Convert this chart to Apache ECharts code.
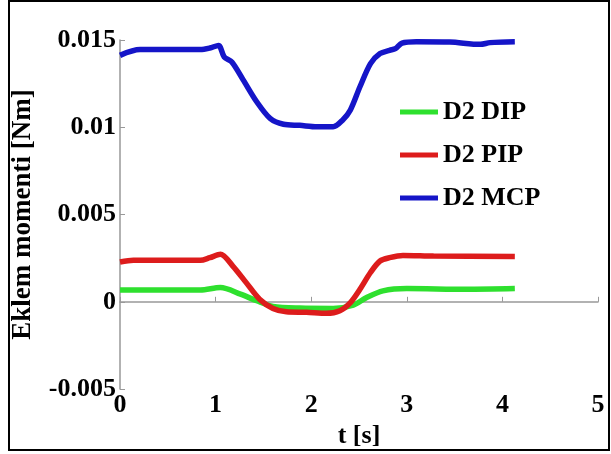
<!DOCTYPE html>
<html>
<head>
<meta charset="utf-8">
<script src="https://cdn.jsdelivr.net/npm/echarts@6/dist/echarts.min.js"></script>
<style>
  html, body { margin: 0; padding: 0; background: #fff; }
  #wrap { position: relative; width: 611px; height: 454px; }
  #chart { width: 611px; height: 454px; }
  #frame {
    position: absolute; left: 8px; top: 0; width: 602px; height: 451px;
    border: 2px solid #000; box-sizing: border-box; pointer-events: none;
  }
</style>
</head>
<body>
<div id="wrap">
  <div id="chart"></div>
  <div id="frame"></div>
</div>
<script>
// values
var xTicks = [0, 1, 2, 3, 4, 5];
var yTicks = [-0.005, 0, 0.005, 0.01, 0.015];

var dipT = [0, 0.84, 1.05, 1.26, 1.43, 1.6, 1.88, 2.23, 2.44, 2.58, 2.75, 3.0, 3.62, 4.13];
var dipV = [0.00068, 0.00068, 0.00082, 0.00044, 0.00006, -0.00026, -0.00036, -0.00038, -0.00019, 0.00025, 0.00063, 0.00076, 0.00072, 0.00076];

var pipT = [0, 0.14, 0.84, 0.94, 1.05, 1.18, 1.32, 1.46, 1.6, 1.74, 1.95, 2.16, 2.3, 2.41, 2.51, 2.62, 2.72, 2.82, 2.96, 3.28, 4.13];
var pipV = [0.00228, 0.00238, 0.00238, 0.00253, 0.00272, 0.00205, 0.0011, 0.00015, -0.00038, -0.00057, -0.0006, -0.00066, -0.00051, -0.00004, 0.00072, 0.00168, 0.00234, 0.00253, 0.00266, 0.00262, 0.00259];

var mcpT = [0, 0.21, 0.84, 0.94, 1.03, 1.09, 1.17, 1.29, 1.43, 1.57, 1.71, 1.88, 2.06, 2.23, 2.33, 2.41, 2.51, 2.62, 2.72, 2.82, 2.88, 2.95, 3.1, 3.45, 3.77, 3.87, 4.13];
var mcpV = [0.01412, 0.01445, 0.01445, 0.01454, 0.01469, 0.01403, 0.01374, 0.0127, 0.01146, 0.01051, 0.01017, 0.01011, 0.01003, 0.01003, 0.01042, 0.01099, 0.01232, 0.01365, 0.01422, 0.01441, 0.0145, 0.01482, 0.0149, 0.01488, 0.01475, 0.01485, 0.0149];

var names = ["D2 DIP", "D2 PIP", "D2 MCP"];
var colors = ["#2ee02e", "#dd1c1c", "#1515c8"];

function pairs(t, v) {
  return t.map(function(x, i) { return [x, v[i]]; });
}

var font = "Liberation Serif";
var myChart = echarts.init(document.getElementById("chart"));

myChart.setOption({
  animation: false,
  color: colors,
  grid: { left: 120, right: 13, top: 40, bottom: 63 },
  legend: {
    data: names,
    orient: "vertical",
    left: 395,
    top: 94,
    icon: "rect",
    itemWidth: 38,
    itemHeight: 5,
    itemGap: 17,
    textStyle: {
      fontFamily: font,
      fontWeight: "bold",
      fontSize: 26,
      lineHeight: 26,
      color: "#000"
    }
  },
  xAxis: {
    type: "value",
    min: xTicks[0],
    max: xTicks[xTicks.length - 1],
    interval: 1,
    name: "t [s]",
    nameLocation: "middle",
    nameGap: 23,
    nameTextStyle: { fontFamily: font, fontWeight: "bold", fontSize: 26, color: "#000" },
    axisLine: { lineStyle: { color: "#999", width: 1.5 } },
    axisTick: { inside: true, length: 5, lineStyle: { color: "#999" } },
    axisLabel: { margin: 3, fontFamily: font, fontWeight: "bold", fontSize: 26, color: "#000" },
    splitLine: { show: false }
  },
  yAxis: {
    type: "value",
    min: yTicks[0],
    max: yTicks[yTicks.length - 1],
    interval: 0.005,
    name: "Eklem momenti [Nm]",
    nameLocation: "middle",
    nameGap: 83,
    nameMoveOverlap: false,
    nameTextStyle: { fontFamily: font, fontWeight: "bold", fontSize: 27, color: "#000" },
    axisLine: { show: true, lineStyle: { color: "#999", width: 1.5 } },
    axisTick: { show: true, inside: true, length: 5, lineStyle: { color: "#999" } },
    axisLabel: { margin: 4, fontFamily: font, fontWeight: "bold", fontSize: 26, color: "#000" },
    splitLine: { show: false }
  },
  series: [
    { name: names[0], type: "line", symbol: "none", smooth: 0.3, lineStyle: { width: 5.5 }, data: pairs(dipT, dipV) },
    { name: names[1], type: "line", symbol: "none", smooth: 0.3, lineStyle: { width: 5.5 }, data: pairs(pipT, pipV) },
    { name: names[2], type: "line", symbol: "none", smooth: 0.3, lineStyle: { width: 5.5 }, data: pairs(mcpT, mcpV) }
  ]
});
</script>
</body>
</html>
